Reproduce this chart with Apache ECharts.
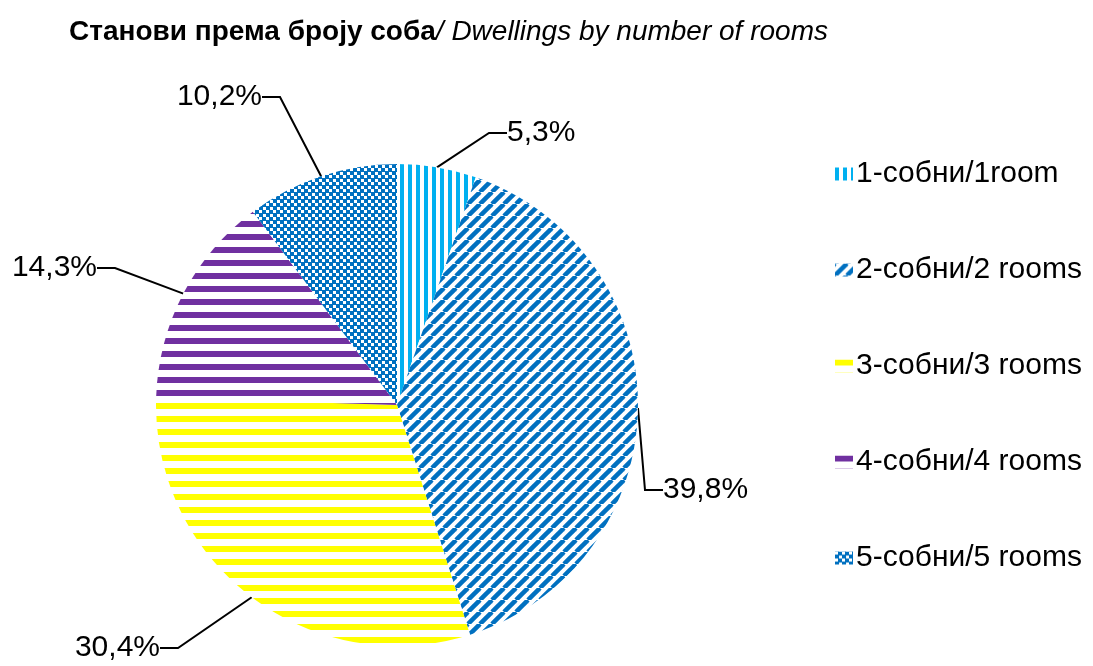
<!DOCTYPE html>
<html>
<head>
<meta charset="utf-8">
<script src="https://cdn.jsdelivr.net/npm/echarts@6/dist/echarts.min.js"></script>
<style>
  html, body { margin: 0; padding: 0; background: #fff; }
  #chart { width: 1093px; height: 666px; }
</style>
</head>
<body>
<div id="chart"></div>
<script>
var categories = ['1-собни/1room', '2-собни/2 rooms', '3-собни/3 rooms', '4-собни/4 rooms', '5-собни/5 rooms'];
var values = [5.3, 39.8, 30.4, 14.3, 10.2];
var labels = ['5,3%', '39,8%', '30,4%', '14,3%', '10,2%'];

// pattern tiles drawn on small canvases
function tile(w, h, draw) {
  var c = document.createElement('canvas');
  c.width = w; c.height = h;
  var ctx = c.getContext('2d');
  ctx.fillStyle = '#fff';
  ctx.fillRect(0, 0, w, h);
  draw(ctx, w, h);
  return { image: c, repeat: 'repeat' };
}
var vStripes = tile(8, 8, function (ctx) {
  ctx.fillStyle = '#00B0F0';
  ctx.fillRect(0, 0, 4, 8);
});
var diag = tile(12, 12, function (ctx, w, h) {
  ctx.strokeStyle = '#0070C0';
  ctx.lineWidth = 4.5;
  for (var k = -1; k <= 1; k++) {
    ctx.beginPath();
    ctx.moveTo(k * w, h);
    ctx.lineTo(k * w + w, 0);
    ctx.stroke();
  }
});
var yellowH = tile(13, 13, function (ctx) {
  ctx.fillStyle = '#FFFF00';
  ctx.fillRect(0, 0, 13, 6);
});
var purpleH = tile(13, 13, function (ctx) {
  ctx.fillStyle = '#7030A0';
  ctx.fillRect(0, 0, 13, 6);
});
var checker = tile(7, 7, function (ctx) {
  ctx.fillStyle = '#0070C0';
  ctx.fillRect(0, 0, 7, 7);
  ctx.fillStyle = '#fff';
  ctx.fillRect(0, 0, 3, 3);
  ctx.fillRect(4, 4, 3, 3);
});
var fills = [vStripes, diag, yellowH, purpleH, checker];

// where Excel put each label (left edge / right edge, vertical centre)
var labelSpots = [
  { x: 507, y: 133, align: 'left' },
  { x: 663, y: 490, align: 'left' },
  { x: 160, y: 648, align: 'right' },
  { x: 97, y: 268, align: 'right' },
  { x: 262, y: 97, align: 'right' }
];

var chart = echarts.init(document.getElementById('chart'));
var option = {
  animation: false,
  title: {
    left: 64,
    top: 13,
    text: '{b|Станови према броју соба}{i|/ Dwellings by number of rooms}',
    textStyle: {
      rich: {
        b: { fontFamily: '"Liberation Sans", Arial, sans-serif', fontWeight: 'bold', fontSize: 28, color: '#000' },
        i: { fontFamily: '"Liberation Sans", Arial, sans-serif', fontWeight: 'normal', fontStyle: 'italic', fontSize: 28, color: '#000' }
      }
    }
  },
  legend: {
    orient: 'vertical',
    left: 830,
    top: 154,
    itemGap: 66,
    itemWidth: 18,
    itemHeight: 13,
    icon: 'rect',
    textStyle: { fontFamily: '"Liberation Sans", Arial, sans-serif', fontSize: 30, color: '#000', padding: [0, 0, 0, -2] },
    data: categories
  },
  series: [{
    type: 'pie',
    center: [397, 405],
    radius: 241,
    startAngle: 90,
    clockwise: true,
    avoidLabelOverlap: false,
    label: {
      show: true,
      formatter: function (p) { return labels[p.dataIndex]; },
      fontFamily: '"Liberation Sans", Arial, sans-serif',
      fontSize: 30,
      color: '#000'
    },
    labelLine: {
      show: true,
      length: 25,
      length2: 18,
      lineStyle: { color: '#000', width: 2 }
    },
    labelLayout: function (p) {
      var s = labelSpots[p.dataIndex];
      return { x: s.x, y: s.y, align: s.align, verticalAlign: 'middle' };
    },
    itemStyle: { borderWidth: 0 },
    emphasis: { disabled: true },
    data: categories.map(function (name, i) {
      return { name: name, value: values[i], itemStyle: { color: fills[i] } };
    })
  }]
};
chart.setOption(option);
</script>
</body>
</html>
